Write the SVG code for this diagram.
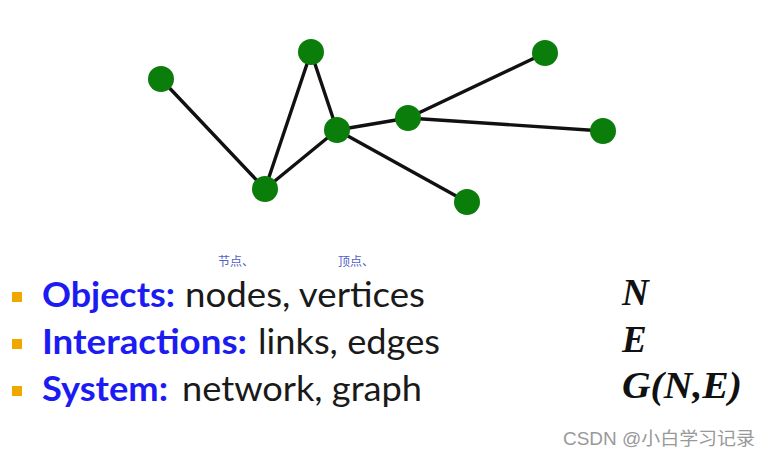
<svg xmlns="http://www.w3.org/2000/svg" width="771" height="456" viewBox="0 0 771 456">
<style>
.edge{stroke:#111;stroke-width:3.4;stroke-linecap:round}
.node{fill:#0a7d0a}
.blue{font-family:Lato,"Open Sans",sans-serif;font-weight:bold;font-size:35px;fill:#1c1cf2}
.blk{font-family:Lato,"Open Sans",sans-serif;font-size:35px;fill:#1a1a1a}
.math{font-family:"Liberation Serif",serif;font-weight:bold;font-style:italic;font-size:37px;fill:#111}
.bul{fill:#f0a800}
.note{font-family:"Noto Sans CJK SC",sans-serif;font-size:12px;fill:#5060c8}
</style>
<rect width="771" height="456" fill="#fff"/>
<g id="connectors">
<line class="edge" x1="161" y1="79" x2="265" y2="189"/>
<line class="edge" x1="265" y1="189" x2="311" y2="52"/>
<line class="edge" x1="311" y1="52" x2="337" y2="130"/>
<line class="edge" x1="265" y1="189" x2="337" y2="130"/>
<line class="edge" x1="337" y1="130" x2="408" y2="118"/>
<line class="edge" x1="408" y1="118" x2="545" y2="53"/>
<line class="edge" x1="408" y1="118" x2="603" y2="131"/>
<line class="edge" x1="337" y1="130" x2="467" y2="202"/>
</g>
<g id="n1"><circle class="node" cx="161" cy="79" r="13"/></g>
<g id="n2"><circle class="node" cx="311" cy="52" r="13"/></g>
<g id="n3"><circle class="node" cx="337" cy="130" r="13"/></g>
<g id="n4"><circle class="node" cx="408" cy="118" r="13"/></g>
<g id="n5"><circle class="node" cx="545" cy="53" r="13"/></g>
<g id="n6"><circle class="node" cx="603" cy="131" r="13"/></g>
<g id="n7"><circle class="node" cx="265" cy="189" r="13"/></g>
<g id="n8"><circle class="node" cx="467" cy="202" r="13"/></g>
<g id="text">
<text class="note" x="218" y="266">节点、</text>
<text class="note" x="338" y="266">顶点、</text>
<rect class="bul" x="12" y="292" width="10" height="10"/>
<rect class="bul" x="12" y="339" width="10" height="10"/>
<rect class="bul" x="12" y="386" width="10" height="10"/>
<text class="blue" x="42" y="307" textLength="133" lengthAdjust="spacingAndGlyphs">Objects:</text>
<text class="blk" x="185" y="307" textLength="240" lengthAdjust="spacingAndGlyphs">nodes, vertices</text>
<text class="blue" x="42" y="354" textLength="205" lengthAdjust="spacingAndGlyphs">Interactions:</text>
<text class="blk" x="258" y="354" textLength="182" lengthAdjust="spacingAndGlyphs">links, edges</text>
<text class="blue" x="42" y="401" textLength="126" lengthAdjust="spacingAndGlyphs">System:</text>
<text class="blk" x="182" y="401" textLength="240" lengthAdjust="spacingAndGlyphs">network, graph</text>
<text class="math" x="622" y="305">N</text>
<text class="math" x="622" y="352">E</text>
<text class="math" x="622" y="398" textLength="120" lengthAdjust="spacingAndGlyphs">G(N,E)</text>
<text x="563" y="445" font-family="'Liberation Sans','Noto Sans CJK SC',sans-serif" font-size="18" fill="#999" textLength="192" lengthAdjust="spacingAndGlyphs">CSDN @小白学习记录</text>
</g>
</svg>
